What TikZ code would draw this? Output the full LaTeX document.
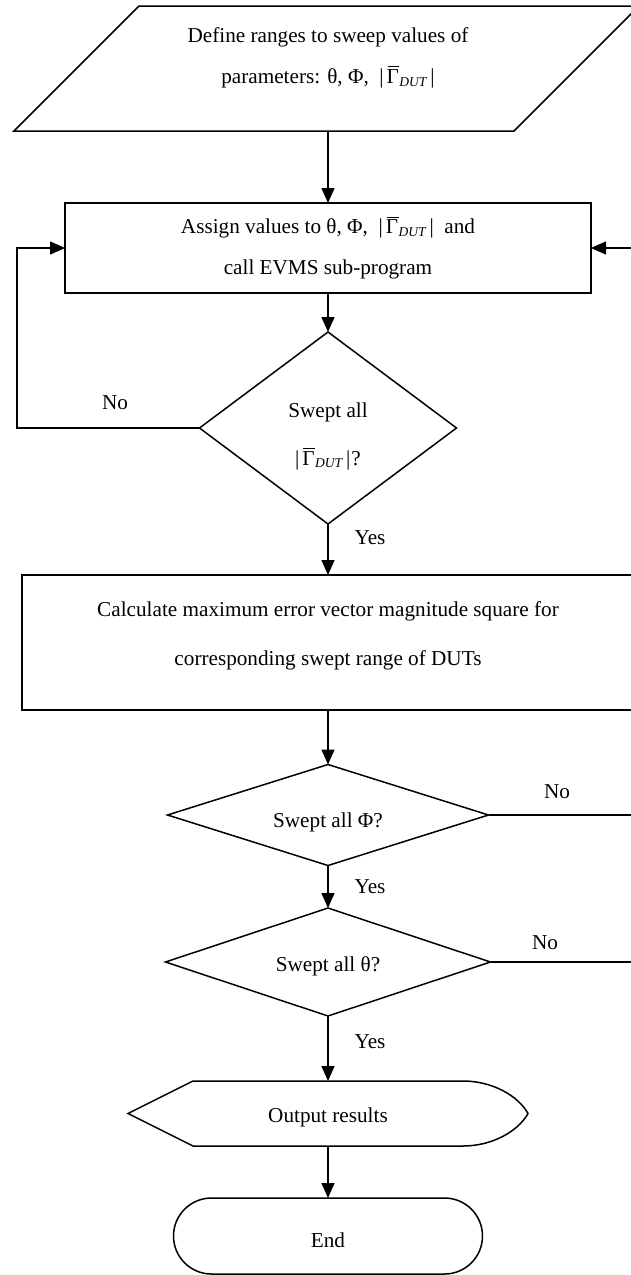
\documentclass[tikz,border=0pt]{standalone}
\usepackage{fontspec}
\setmainfont{Liberation Serif}
\usetikzlibrary{arrows.meta,calc}

% Gamma with a bar accent drawn as a rule
\newcommand{\vgam}{\leavevmode\rlap{\kern0.04em\raisebox{0.78em}{\rule{0.56em}{0.9pt}}}Γ}
% |Gamma_DUT| with italic subscript
\newcommand{\gdut}{\textbar\kern3pt\vgam\kern0.5pt\raisebox{-0.3ex}{\fontsize{13.5}{13.5}\selectfont\itshape DUT}\kern4pt\textbar}

\begin{document}
\begin{tikzpicture}[x=1pt,y=-1pt,
  line width=1.5pt,
  >={Triangle[length=15pt,width=13pt]},
  frame/.style={inner sep=0pt, outer sep=0pt},
  txt/.style={font=\fontsize{21.2}{41}\selectfont, align=center, inner sep=0pt},
  lbl/.style={font=\fontsize{21.2}{24}\selectfont, inner sep=0pt},
  flow/.style={->}
]
\useasboundingbox (0,0) rectangle (631,1275);
\clip (0,0) rectangle (631,1275);

% block frames (outlines drawn from their anchors)
\node[frame, minimum width=625pt, minimum height=125pt] (para) at (326.5,68.5) {};
\node[frame, draw, minimum width=526pt, minimum height=90pt] (assign) at (328,248) {};
\node[frame, minimum width=257pt, minimum height=192pt] (d1) at (328,428) {};
\node[frame, draw, minimum width=612pt, minimum height=135pt] (calc) at (328,642.5) {};
\node[frame, minimum width=321pt, minimum height=101pt] (d2) at (328,815) {};
\node[frame, minimum width=325pt, minimum height=108pt] (d3) at (328,962) {};
\node[frame, minimum width=400pt, minimum height=65pt] (out) at (328,1113.5) {};
\node[frame, draw, rounded corners=38pt, minimum width=309pt, minimum height=76pt] (end) at (328,1236) {};

% parallelogram (input)
\draw ($(para.north west)+(125,0)$) -- (para.north east)
      -- ($(para.south east)+(-125,0)$) -- (para.south west) -- cycle;
% decisions
\draw (d1.north) -- (d1.east) -- (d1.south) -- (d1.west) -- cycle;
\draw (d2.north) -- (d2.east) -- (d2.south) -- (d2.west) -- cycle;
\draw (d3.north) -- (d3.east) -- (d3.south) -- (d3.west) -- cycle;
% display shape (output)
\draw (out.west) -- ($(out.north west)+(65,0)$) -- ($(out.north east)+(-65,0)$)
      .. controls ($(out.north east)+(-36,0)$) and ($(out.east)+(-10,-18)$) .. (out.east)
      .. controls ($(out.east)+(-10,18)$) and ($(out.south east)+(-36,0)$) .. ($(out.south east)+(-65,0)$)
      -- ($(out.south west)+(65,0)$) -- cycle;

% texts
\node[txt] (tpara) at (328,58) {Define ranges to sweep values of\\parameters: θ, Φ, \ \gdut};
\node[txt] (tassign) at (328,248) {Assign values to θ, Φ, \ \gdut\ \ and\\call EVMS sub-program};
\node[txt, font=\fontsize{21.2}{48}\selectfont] (td1) at (328,436) {Swept all\\\gdut\kern1pt?};
\node[txt, font=\fontsize{21.2}{49}\selectfont] (tcalc) at (328,636) {Calculate maximum error vector magnitude square for\\corresponding swept range of DUTs};
\node[txt] (td2) at (328,822) {Swept all Φ?};
\node[txt] (td3) at (328,966) {Swept all θ?};
\node[txt] (tout) at (328,1117) {Output results};
\node[txt] (tend) at (328,1240) {End};

% loop-back rails
\coordinate (lrail) at (17,0);
\coordinate (rrail) at (650,0);

% connectors
\draw[flow] (para.south -| assign.north) -- (assign.north);
\draw[flow] (assign.south) -- (d1.north);
\draw[flow] (d1.south) -- (calc.north);
\draw[flow] (d1.west) -- (d1.west -| lrail) |- (assign.west);
\draw[flow] (calc.south) -- (d2.north);
\draw[flow] (d2.south) -- (d3.north);
\draw (d2.east) -- (d2.east -| rrail);
\draw[flow] (d3.east) -- (d3.east -| rrail) |- (assign.east);
\draw[flow] (d3.south) -- (out.north);
\draw[flow] (out.south) -- (end.north);

% branch labels
\node[lbl] (no1) at (115,403) {No};
\node[lbl] (yes1) at (370,538) {Yes};
\node[lbl] (no2) at (557,792) {No};
\node[lbl] (yes2) at (370,887) {Yes};
\node[lbl] (no3) at (545,943) {No};
\node[lbl] (yes3) at (370,1042) {Yes};
\end{tikzpicture}
\end{document}
